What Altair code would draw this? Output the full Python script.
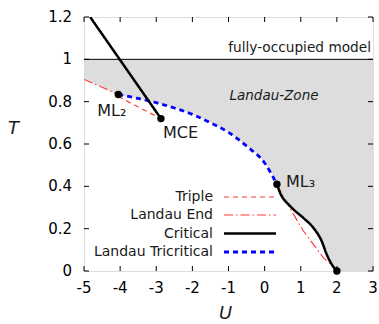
import altair as alt
import pandas as pd

FONT = "DejaVu Sans"
RED = "#ff3b3b"
BLUE = "#0000ff"
TXT = "#1a1a1a"

# ---- data ----
landau_end_left_U = [-5.0, -4.5, -4.05]
landau_end_left_T = [0.905, 0.868, 0.834]
landau_end_right_U = [0.34, 0.6, 1.07, 1.63, 1.91, 2.0]
landau_end_right_T = [0.41, 0.325, 0.19, 0.062, 0.02, 0.0]
triple_U = [-4.05, -3.5, -2.87]
triple_T = [0.825, 0.775, 0.72]
crit_upper_U = [-4.83, -2.87]
crit_upper_T = [1.2, 0.72]
crit_lower_U = [0.34, 0.43, 0.71, 1.07, 1.35, 1.58, 1.72, 1.86, 2.0]
crit_lower_T = [0.41, 0.369, 0.306, 0.251, 0.204, 0.141, 0.078, 0.031, 0.0]
tricrit_U = [-4.05, -3.5, -3.0, -2.5, -2.0, -1.5, -1.0, -0.5, 0.0, 0.34]
tricrit_T = [0.834, 0.815, 0.795, 0.77, 0.74, 0.70, 0.655, 0.59, 0.51, 0.41]

point_U = [-4.05, -2.87, 0.34, 2.0]
point_T = [0.834, 0.72, 0.41, 0.0]

x_ticks = [-5, -4, -3, -2, -1, 0, 1, 2, 3]
x_tick_labels = ["-5", "-4", "-3", "-2", "-1", "0", "1", "2", "3"]
y_ticks = [0, 0.2, 0.4, 0.6, 0.8, 1.0, 1.2]
y_tick_labels = ["0", "0.2", "0.4", "0.6", "0.8", "1", "1.2"]

legend_labels = ["Triple", "Landau End", "Critical", "Landau Tricritical"]

W, H = 289, 254

xs = alt.Scale(domain=[-5, 3], nice=False, zero=False)
ys = alt.Scale(domain=[0, 1.2], nice=False, zero=False)

# gray zone
area_U = landau_end_left_U[:-1] + tricrit_U + crit_lower_U[1:] + [3.0]
area_T = landau_end_left_T[:-1] + tricrit_T + crit_lower_T[1:] + [0.0]
area_df = pd.DataFrame({"U": area_U, "T": area_T})

xaxis = alt.Axis(labels=False, ticks=False, domain=False, grid=False, title="U", titleX=141, titleY=42,
                 titleBaseline="middle", titleFont=FONT, titleFontSize=18,
                 titleFontStyle="italic", titleFontWeight="normal", titleColor=TXT)
yaxis = alt.Axis(labels=False, ticks=False, domain=False, grid=False, title="T", titleAngle=0,
                 titleX=-71, titleY=111, titleAlign="center", titleBaseline="middle",
                 titleFont=FONT, titleFontSize=18, titleFontStyle="italic",
                 titleFontWeight="normal", titleColor=TXT)

area = alt.Chart(area_df).mark_area(color="#dddddd", opacity=1, clip=True,
                                    interpolate="monotone").encode(
    x=alt.X("U:Q", scale=xs, axis=xaxis),
    y=alt.Y("T:Q", scale=ys, axis=yaxis),
    y2=alt.datum(1.0),
)

one_df = pd.DataFrame({"T": [1.0]})
hline = alt.Chart(one_df).mark_rule(color="black", strokeWidth=1).encode(
    y=alt.Y("T:Q", scale=ys))


def line_layer(U, T, color, dash, width, interp="linear"):
    df = pd.DataFrame({"U": U, "T": T, "i": range(len(U))})
    return alt.Chart(df).mark_line(color=color, strokeDash=dash, strokeWidth=width, clip=True,
                                   interpolate=interp).encode(
        x=alt.X("U:Q", scale=xs), y=alt.Y("T:Q", scale=ys), order="i:Q")


DASH_TRIPLE = [5, 4]
DASH_END = [9, 3, 1.5, 3]
DASH_BLUE = [5, 4]

lines = [
    line_layer(landau_end_left_U, landau_end_left_T, RED, DASH_END, 1.2),
    line_layer(landau_end_right_U, landau_end_right_T, RED, DASH_END, 1.2),
    line_layer(triple_U, triple_T, RED, DASH_TRIPLE, 1.2),
    line_layer(tricrit_U, tricrit_T, BLUE, DASH_BLUE, 2.8, "monotone"),
    line_layer(crit_upper_U, crit_upper_T, "black", [1, 0], 2.5),
    line_layer(crit_lower_U, crit_lower_T, "black", [1, 0], 2.5, "monotone"),
]

pts_df = pd.DataFrame({"U": point_U, "T": point_T})
points = alt.Chart(pts_df).mark_circle(color="black", opacity=1, size=55).encode(
    x=alt.X("U:Q", scale=xs), y=alt.Y("T:Q", scale=ys))


def label(i, text, dx, dy, size=16):
    df = pd.DataFrame({"U": [point_U[i]], "T": [point_T[i]], "t": [text]})
    return alt.Chart(df).mark_text(font=FONT, fontSize=size, align="left", baseline="middle",
                                   dx=dx, dy=dy, color=TXT).encode(
        x=alt.X("U:Q", scale=xs), y=alt.Y("T:Q", scale=ys), text="t:N")


labels = [
    label(0, "ML₂", -21, 17),
    label(1, "MCE", 2, 14),
    label(2, "ML₃", 9, -2),
]

# tick labels
xl_df = pd.DataFrame({"U": x_ticks, "lab": x_tick_labels})
yl_df = pd.DataFrame({"T": y_ticks, "lab": y_tick_labels})
xlabels = alt.Chart(xl_df).mark_text(font=FONT, fontSize=15, align="center",
                                     baseline="middle", color="black").encode(
    x=alt.X("U:Q", scale=xs), y=alt.value(H + 17), text="lab:N")
ylabels = alt.Chart(yl_df).mark_text(font=FONT, fontSize=15, align="right",
                                     baseline="middle", color="black").encode(
    y=alt.Y("T:Q", scale=ys), x=alt.value(-12), text="lab:N")

# annotations in the zones
txt_df = pd.DataFrame({"a": ["fully-occupied model"], "b": ["Landau-Zone"]})
fully = alt.Chart(txt_df).mark_text(font=FONT, fontSize=13.7, align="right", baseline="middle",
                                    color=TXT).encode(
    x=alt.value(W - 2), y=alt.value(31), text="a:N")
landau_zone = alt.Chart(txt_df).mark_text(font=FONT, fontSize=13.5, fontStyle="italic", align="center",
                                          baseline="middle", color=TXT).encode(
    x=alt.value(190), y=alt.value(79), text="b:N")

# inward ticks on all four sides
xt_df = pd.DataFrame({"U": x_ticks})
yt_df = pd.DataFrame({"T": y_ticks})
ticks = [
    alt.Chart(xt_df).mark_rule(color="black", strokeWidth=1).encode(
        x=alt.X("U:Q", scale=xs), y=alt.value(H), y2=alt.value(H - 5)),
    alt.Chart(xt_df).mark_rule(color="black", strokeWidth=1).encode(
        x=alt.X("U:Q", scale=xs), y=alt.value(0), y2=alt.value(5)),
    alt.Chart(yt_df).mark_rule(color="black", strokeWidth=1).encode(
        y=alt.Y("T:Q", scale=ys), x=alt.value(0), x2=alt.value(5)),
    alt.Chart(yt_df).mark_rule(color="black", strokeWidth=1).encode(
        y=alt.Y("T:Q", scale=ys), x=alt.value(W), x2=alt.value(W - 5)),
]

# legend
leg_styles = [(RED, DASH_TRIPLE, 1.2), (RED, DASH_END, 1.2), ("black", [1, 0], 2.5), (BLUE, DASH_BLUE, 2.8)]
leg_y = [180, 198, 216.5, 235]
legend = []
for lab, (c, d, w), yy in zip(legend_labels, leg_styles, leg_y):
    ldf = pd.DataFrame({"name": [lab]})
    legend.append(alt.Chart(ldf).mark_text(font=FONT, fontSize=14, align="right",
                                           baseline="middle", color=TXT).encode(
        x=alt.value(129), y=alt.value(yy), text="name:N"))
    legend.append(alt.Chart(ldf).mark_rule(color=c, strokeDash=d, strokeWidth=w).encode(
        x=alt.value(140), x2=alt.value(192), y=alt.value(yy)))

chart = alt.layer(area, hline, *lines, *ticks, points, *labels, xlabels, ylabels, fully, landau_zone,
                  *legend).properties(
    width=W, height=H,
    autosize=alt.AutoSizeParams(type="none"),
    padding={"left": 84, "top": 17, "right": 6, "bottom": 53},
).configure_view(
    stroke="black", strokeWidth=1.3
).configure(background="white")

chart.save("out.html", embed_options={"renderer": "svg", "actions": False})
